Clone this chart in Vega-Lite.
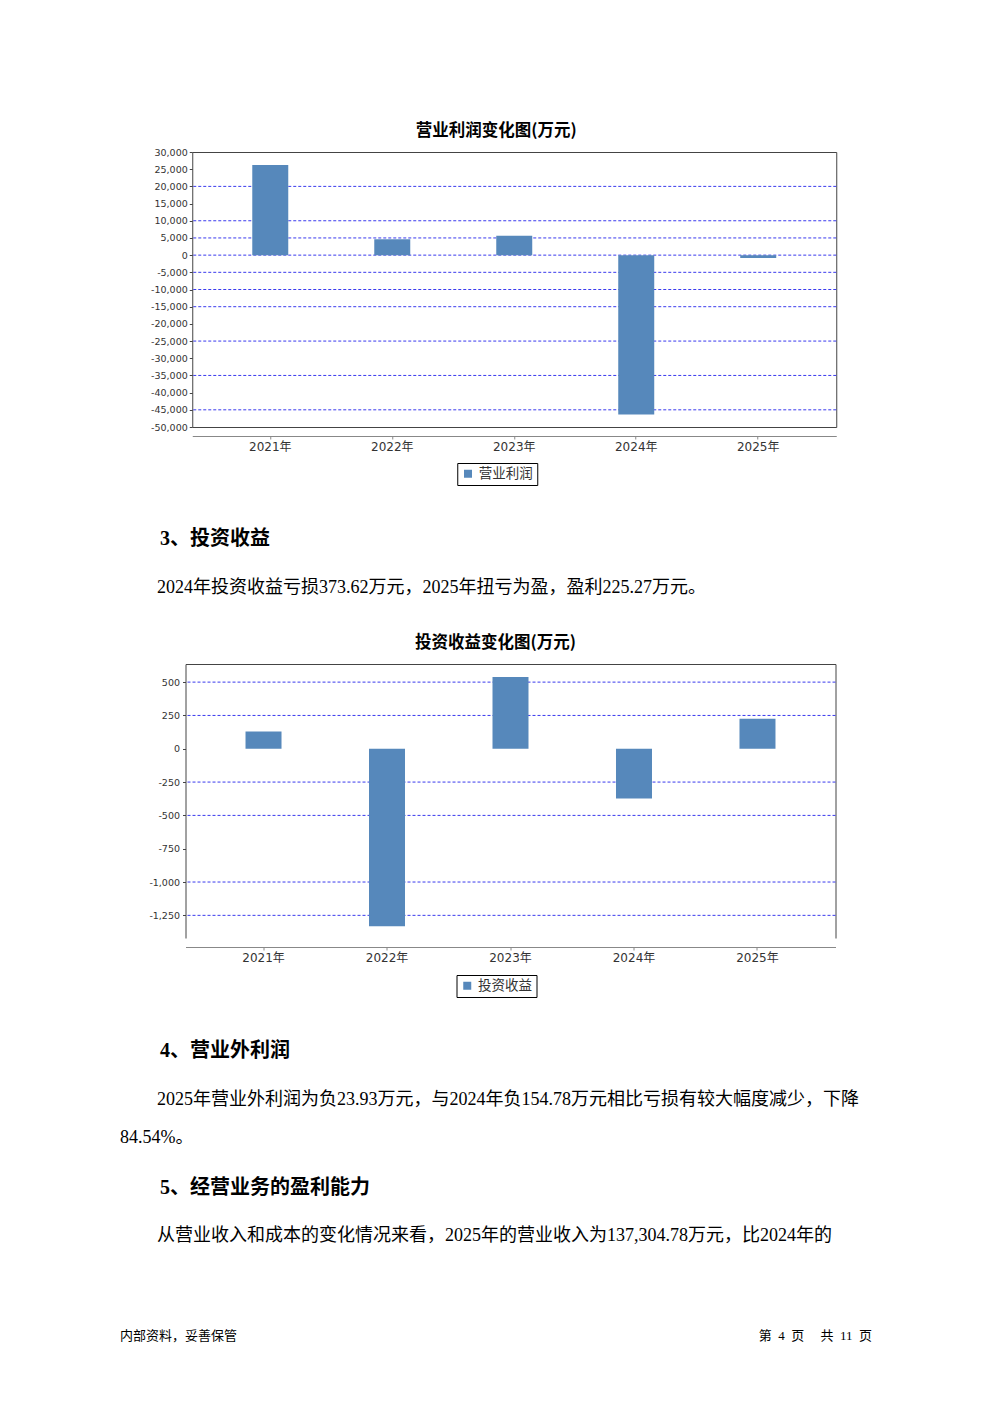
{
  "$schema": "https://vega.github.io/schema/vega-lite/v6.json",
  "background": "white",
  "padding": {"left": 120, "top": 122, "right": 0, "bottom": 0},
  "spacing": 0,
  "bounds": "full",
  "center": true,
  "resolve": {"scale": {"color": "independent", "x": "independent", "y": "independent"}, "legend": {"color": "independent"}},
  "config": {"view": {"stroke": null}, "axis": {"grid": false}},
  "datasets": {
    "op": [
      {"year": "2021年", "value": 26200, "item": "营业利润"},
      {"year": "2022年", "value": 4650, "item": "营业利润"},
      {"year": "2023年", "value": 5620, "item": "营业利润"},
      {"year": "2024年", "value": -46350, "item": "营业利润"},
      {"year": "2025年", "value": -870, "item": "营业利润"}
    ],
    "inv": [
      {"year": "2021年", "value": 130, "item": "投资收益"},
      {"year": "2022年", "value": -1331, "item": "投资收益"},
      {"year": "2023年", "value": 538, "item": "投资收益"},
      {"year": "2024年", "value": -373.62, "item": "投资收益"},
      {"year": "2025年", "value": 225.27, "item": "投资收益"}
    ],
    "grid1": [{"g": 20000}, {"g": 10000}, {"g": 5000}, {"g": 0}, {"g": -5000}, {"g": -10000}, {"g": -15000}, {"g": -25000}, {"g": -35000}, {"g": -45000}],
    "grid2": [{"g": 500}, {"g": 250}, {"g": -250}, {"g": -500}, {"g": -1000}, {"g": -1250}]
  },
  "vconcat": [
    {
      "width": 644,
      "height": 275,
      "view": {"stroke": "#444", "strokeWidth": 1},
      "title": {"text": "营业利润变化图(万元)", "font": "Noto Sans CJK SC", "fontSize": 16.5, "fontWeight": "bold", "color": "#000", "anchor": "middle", "frame": "group", "dx": -18, "offset": 8},
      "resolve": {"axis": {"x": "independent", "y": "independent"}},
      "layer": [
        {
          "data": {"name": "grid1"},
          "mark": {"type": "rule", "color": "#3a3aee", "strokeWidth": 1, "strokeDash": [3, 2]},
          "encoding": {"y": {"field": "g", "type": "quantitative", "scale": {"domain": [-50000, 30000], "nice": false}, "axis": null}}
        },
        {
          "data": {"name": "op"},
          "mark": {"type": "bar"},
          "encoding": {
            "x": {"field": "year", "type": "nominal", "sort": null, "scale": {"paddingInner": 0.705, "paddingOuter": 0.492},
                  "axis": {"title": null, "orient": "bottom", "offset": 9, "domainColor": "#888", "tickColor": "#888", "tickSize": 3, "labelFont": "DejaVu Sans, Noto Sans CJK SC", "labelFontSize": 12, "labelColor": "#333", "labelPadding": 2, "labelAngle": 0}},
            "y": {"field": "value", "type": "quantitative", "scale": {"domain": [-50000, 30000], "nice": false},
                  "axis": {"title": null, "orient": "left", "values": [30000, 25000, 20000, 15000, 10000, 5000, 0, -5000, -10000, -15000, -20000, -25000, -30000, -35000, -40000, -45000, -50000], "format": ",d", "labelExpr": "replace(datum.label, '\u2212', '-')", "domain": false, "grid": false, "tickSize": 3, "tickColor": "#444", "labelFont": "DejaVu Sans", "labelFontSize": 9.5, "labelColor": "#333", "labelPadding": 2, "labelFlush": false, "labelOverlap": false, "minExtent": 71, "maxExtent": 71}},
            "color": {"field": "item", "type": "nominal", "scale": {"range": ["#5688bb"]},
                      "legend": {"title": null, "orient": "none", "legendX": 265, "legendY": 311, "direction": "horizontal", "strokeColor": "#000", "fillColor": "white", "padding": 4, "symbolType": "square", "symbolSize": 64, "symbolStrokeWidth": 0, "labelFont": "Noto Sans CJK SC", "labelFontSize": 13.5, "labelColor": "#333", "labelOffset": 4}}
          }
        },
        {
          "data": {"name": "op"},
          "mark": {"type": "bar", "opacity": 0},
          "encoding": {
            "x": {"field": "year", "type": "nominal", "sort": null, "scale": {"paddingInner": 0.705, "paddingOuter": 0.492}, "axis": null},
            "y": {"field": "value", "type": "quantitative", "scale": {"domain": [-50000, 30000], "nice": false},
                  "axis": {"title": null, "orient": "right", "labels": false, "ticks": false, "domain": false, "grid": false, "minExtent": 35, "maxExtent": 35}}
          }
        }
      ]
    },
    {
      "width": 824,
      "height": 77,
      "data": {"values": [{"para": "3", "text": "3、投资收益"}]},
      "mark": {"type": "text", "align": "left", "baseline": "middle", "dx": 40, "font": "Liberation Serif, Noto Sans CJK SC", "fontSize": 20, "fontWeight": "bold", "color": "#000"},
      "encoding": {
        "x": {"field": "para", "type": "nominal", "scale": {"type": "point", "padding": 0, "align": 0}, "axis": null},
        "y": {"field": "para", "type": "nominal", "scale": {"type": "point", "align": 0.688}, "axis": null},
        "text": {"field": "text"}
      }
    },
    {
      "width": 824,
      "height": 71,
      "data": {"values": [{"para": "3", "text": "2024年投资收益亏损373.62万元，2025年扭亏为盈，盈利225.27万元。"}]},
      "mark": {"type": "text", "align": "left", "baseline": "middle", "dx": 37, "font": "Liberation Serif, Noto Sans CJK SC", "fontSize": 18, "color": "#000"},
      "encoding": {
        "x": {"field": "para", "type": "nominal", "scale": {"type": "point", "padding": 0, "align": 0}, "axis": null},
        "y": {"field": "para", "type": "nominal", "scale": {"type": "point", "align": 0.352}, "axis": null},
        "text": {"field": "text"}
      }
    },
    {
      "width": 650,
      "height": 274,
      "title": {"text": "投资收益变化图(万元)", "font": "Noto Sans CJK SC", "fontSize": 16.5, "fontWeight": "bold", "color": "#000", "anchor": "middle", "frame": "group", "dx": -15, "offset": 13},
      "resolve": {"axis": {"x": "independent", "y": "independent"}},
      "layer": [
        {
          "data": {"name": "grid2"},
          "mark": {"type": "rule", "color": "#3a3aee", "strokeWidth": 1, "strokeDash": [3, 2]},
          "encoding": {"y": {"field": "g", "type": "quantitative", "scale": {"domain": [-1420, 636], "nice": false}, "axis": null}}
        },
        {
          "data": {"name": "inv"},
          "mark": {"type": "bar"},
          "encoding": {
            "x": {"field": "year", "type": "nominal", "sort": null, "scale": {"paddingInner": 0.7085, "paddingOuter": 0.486},
                  "axis": {"title": null, "orient": "bottom", "offset": 9, "domainColor": "#888", "tickColor": "#888", "tickSize": 3, "labelFont": "DejaVu Sans, Noto Sans CJK SC", "labelFontSize": 12, "labelColor": "#333", "labelPadding": 2, "labelAngle": 0}},
            "y": {"field": "value", "type": "quantitative", "scale": {"domain": [-1420, 636], "nice": false},
                  "axis": {"title": null, "orient": "left", "values": [500, 250, 0, -250, -500, -750, -1000, -1250], "format": ",d", "labelExpr": "replace(datum.label, '\u2212', '-')", "domain": true, "domainColor": "#444", "grid": false, "tickSize": 3, "tickColor": "#444", "labelFont": "DejaVu Sans", "labelFontSize": 9.5, "labelColor": "#333", "labelPadding": 3, "labelFlush": false, "labelOverlap": false, "minExtent": 65, "maxExtent": 65}},
            "color": {"field": "item", "type": "nominal", "scale": {"range": ["#5688bb"]},
                      "legend": {"title": null, "orient": "none", "legendX": 271, "legendY": 311, "direction": "horizontal", "strokeColor": "#000", "fillColor": "white", "padding": 4, "symbolType": "square", "symbolSize": 64, "symbolStrokeWidth": 0, "labelFont": "Noto Sans CJK SC", "labelFontSize": 13.5, "labelColor": "#333", "labelOffset": 4}}
          }
        },
        {
          "data": {"name": "inv"},
          "mark": {"type": "bar", "opacity": 0},
          "encoding": {
            "x": {"field": "year", "type": "nominal", "sort": null, "scale": {"paddingInner": 0.7085, "paddingOuter": 0.486},
                  "axis": {"title": null, "orient": "top", "labels": false, "ticks": false, "domainColor": "#444", "grid": false}},
            "y": {"field": "value", "type": "quantitative", "scale": {"domain": [-1420, 636], "nice": false},
                  "axis": {"title": null, "orient": "right", "labels": false, "ticks": false, "domainColor": "#444", "grid": false, "minExtent": 43, "maxExtent": 43}}
          }
        }
      ]
    },
    {
      "width": 824,
      "height": 77,
      "data": {"values": [{"para": "4", "text": "4、营业外利润"}]},
      "mark": {"type": "text", "align": "left", "baseline": "middle", "dx": 40, "font": "Liberation Serif, Noto Sans CJK SC", "fontSize": 20, "fontWeight": "bold", "color": "#000"},
      "encoding": {
        "x": {"field": "para", "type": "nominal", "scale": {"type": "point", "padding": 0, "align": 0}, "axis": null},
        "y": {"field": "para", "type": "nominal", "scale": {"type": "point", "align": 0.688}, "axis": null},
        "text": {"field": "text"}
      }
    },
    {
      "width": 824,
      "height": 88,
      "data": {"values": [
        {"para": "4", "line": 1, "text": "2025年营业外利润为负23.93万元，与2024年负154.78万元相比亏损有较大幅度减少，下降"},
        {"para": "4", "line": 2, "text": "84.54%。"}
      ]},
      "encoding": {
        "x": {"field": "para", "type": "nominal", "scale": {"type": "point", "padding": 0, "align": 0}, "axis": null},
        "y": {"field": "line", "type": "ordinal", "sort": null, "scale": {"type": "point", "padding": 0.658, "align": 0.5}, "axis": null},
        "text": {"field": "text"}
      },
      "layer": [
        {
          "transform": [{"filter": "datum.line == 1"}],
          "mark": {"type": "text", "align": "left", "baseline": "middle", "dx": 37, "font": "Liberation Serif, Noto Sans CJK SC", "fontSize": 18, "color": "#000"}
        },
        {
          "transform": [{"filter": "datum.line == 2"}],
          "mark": {"type": "text", "align": "left", "baseline": "middle", "dx": 0, "font": "Liberation Serif, Noto Sans CJK SC", "fontSize": 18, "color": "#000"}
        }
      ]
    },
    {
      "width": 824,
      "height": 49,
      "data": {"values": [{"para": "5", "text": "5、经营业务的盈利能力"}]},
      "mark": {"type": "text", "align": "left", "baseline": "middle", "dx": 40, "font": "Liberation Serif, Noto Sans CJK SC", "fontSize": 20, "fontWeight": "bold", "color": "#000"},
      "encoding": {
        "x": {"field": "para", "type": "nominal", "scale": {"type": "point", "padding": 0, "align": 0}, "axis": null},
        "y": {"field": "para", "type": "nominal", "scale": {"type": "point", "align": 0.51}, "axis": null},
        "text": {"field": "text"}
      }
    },
    {
      "width": 824,
      "height": 74,
      "data": {"values": [{"para": "5", "text": "从营业收入和成本的变化情况来看，2025年的营业收入为137,304.78万元，比2024年的"}]},
      "mark": {"type": "text", "align": "left", "baseline": "middle", "dx": 37, "font": "Liberation Serif, Noto Sans CJK SC", "fontSize": 18, "color": "#000"},
      "encoding": {
        "x": {"field": "para", "type": "nominal", "scale": {"type": "point", "padding": 0, "align": 0}, "axis": null},
        "y": {"field": "para", "type": "nominal", "scale": {"type": "point", "align": 0.324}, "axis": null},
        "text": {"field": "text"}
      }
    },
    {
      "width": 824,
      "height": 100,
      "data": {"values": [
        {"para": "footer", "side": "left", "text": "内部资料，妥善保管"},
        {"para": "footer", "side": "right", "text": "第\u00a0\u00a04\u00a0\u00a0页\u00a0\u00a0\u00a0\u00a0\u00a0共\u00a0\u00a011\u00a0\u00a0页"}
      ]},
      "encoding": {
        "x": {"field": "side", "type": "nominal", "sort": null, "scale": {"type": "point", "padding": 0}, "axis": null},
        "y": {"field": "para", "type": "nominal", "scale": {"type": "point", "align": 0.5}, "axis": null},
        "text": {"field": "text"}
      },
      "layer": [
        {
          "transform": [{"filter": "datum.side == 'left'"}],
          "mark": {"type": "text", "align": "left", "baseline": "middle", "font": "Liberation Serif, Noto Sans CJK SC", "fontSize": 13, "color": "#000"}
        },
        {
          "transform": [{"filter": "datum.side == 'right'"}],
          "mark": {"type": "text", "align": "right", "baseline": "middle", "dx": -72, "font": "Liberation Serif, Noto Sans CJK SC", "fontSize": 13, "color": "#000"}
        }
      ]
    }
  ]
}
